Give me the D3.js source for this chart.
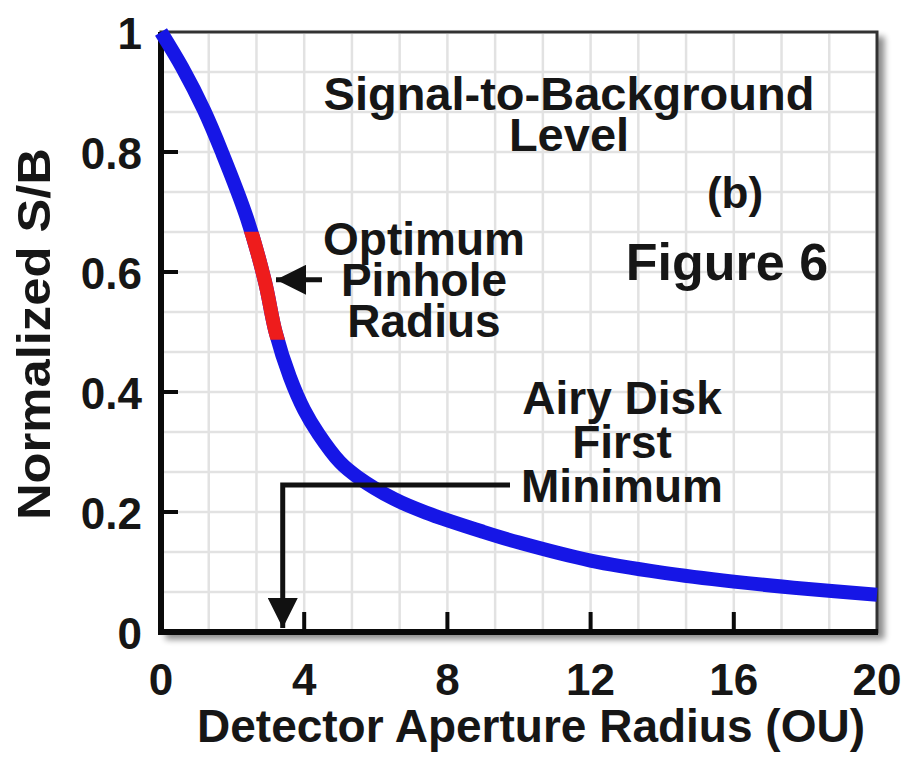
<!doctype html>
<html lang="en">
<head>
    <meta charset="utf-8">
    <title>Signal-to-Background Level</title>
    <script src="https://cdnjs.cloudflare.com/ajax/libs/d3/7.8.5/d3.min.js"></script>
    <style>
        body { margin: 0; background: #fff; }
        svg text {
            font-family: "Liberation Sans", Arial, sans-serif;
            font-weight: bold;
            fill: #161616;
        }
    </style>
</head>
<body>
    <div id="chart"></div>
    <script>
        // curve: detector radius (OU) -> normalized S/B
        var radius = [0, 0.6, 1.2, 1.7, 2.4, 2.9, 3.2, 3.6, 4.0, 4.4, 5.0, 5.5, 6.5, 7.4, 9, 10, 12, 14, 16, 18, 20];
        var sb     = [1.0, 0.94, 0.87, 0.80, 0.69, 0.585, 0.50, 0.425, 0.37, 0.33, 0.283, 0.258, 0.222, 0.199, 0.167, 0.149, 0.119, 0.099, 0.084, 0.072, 0.062];

        // optimum pinhole band (red part of curve), as S/B levels
        var optimumBand = [0.487, 0.667];
        var optimumArrowY = 0.587;
        var airyMinimum = 3.4;
        var airyLineY = 0.245;

        var xTicks = [0, 4, 8, 12, 16, 20];
        var yTicks = [0, 0.2, 0.4, 0.6, 0.8, 1];
        var xInnerTicks = [4, 8, 12, 16];
        var yInnerTicks = [0.2, 0.4, 0.6, 0.8];

        var width = 906, height = 757;
        var x = d3.scaleLinear().domain([0, 20]).range([161, 877]);
        var y = d3.scaleLinear().domain([0, 1]).range([632, 32]);

        var svg = d3.select("#chart").append("svg")
            .attr("width", width)
            .attr("height", height);

        var defs = svg.append("defs");
        var shadow = defs.append("filter").attr("id", "shadow")
            .attr("x", "-5%").attr("y", "-5%").attr("width", "115%").attr("height", "115%");
        shadow.append("feGaussianBlur").attr("in", "SourceAlpha").attr("stdDeviation", 3);
        shadow.append("feOffset").attr("dx", 6).attr("dy", 6).attr("result", "off");
        shadow.append("feComponentTransfer").append("feFuncA").attr("type", "linear").attr("slope", 0.45);
        var merge = shadow.append("feMerge");
        merge.append("feMergeNode");
        merge.append("feMergeNode").attr("in", "SourceGraphic");

        defs.append("clipPath").attr("id", "optClip")
            .append("rect")
            .attr("x", 0)
            .attr("y", y(optimumBand[1]))
            .attr("width", width)
            .attr("height", y(optimumBand[0]) - y(optimumBand[1]));

        defs.append("marker").attr("id", "head")
            .attr("viewBox", "0 0 10 10").attr("refX", 10).attr("refY", 5)
            .attr("markerWidth", 6).attr("markerHeight", 6)
            .attr("markerUnits", "strokeWidth")
            .attr("orient", "auto")
            .append("path").attr("d", "M0,0L10,5L0,10Z").attr("fill", "#111");

        // frame with shadow
        svg.append("rect")
            .attr("x", x(0)).attr("y", y(1))
            .attr("width", x(20) - x(0)).attr("height", y(0) - y(1))
            .attr("fill", "#fff")
            .attr("stroke", "#333")
            .attr("stroke-width", 3)
            .attr("filter", "url(#shadow)");

        // grid 15 x 15
        var grid = svg.append("g").attr("stroke", "#e2e2e2").attr("stroke-width", 2.5);
        grid.selectAll("line.v").data(d3.range(1, 15)).enter().append("line")
            .attr("x1", function(i) { return x(i * 20 / 15); })
            .attr("x2", function(i) { return x(i * 20 / 15); })
            .attr("y1", y(1) + 2).attr("y2", y(0) - 2);
        grid.selectAll("line.h").data(d3.range(1, 15)).enter().append("line")
            .attr("y1", function(i) { return y(i / 15); })
            .attr("y2", function(i) { return y(i / 15); })
            .attr("x1", x(0) + 2).attr("x2", x(20) - 2);

        // left & bottom axes
        var axes = svg.append("g").attr("stroke", "#0a0a0a");
        axes.append("path")
            .attr("d", "M" + x(0) + "," + y(1) + "V" + y(0) + "H" + (x(20) + 1))
            .attr("fill", "none").attr("stroke-width", 6);
        axes.selectAll("line.yt").data(yInnerTicks).enter().append("line")
            .attr("x1", x(0)).attr("x2", x(0) + 17)
            .attr("y1", y).attr("y2", y)
            .attr("stroke-width", 4);
        axes.selectAll("line.xt").data(xInnerTicks).enter().append("line")
            .attr("x1", x).attr("x2", x)
            .attr("y1", y(0)).attr("y2", y(0) - 20)
            .attr("stroke-width", 4);

        // curve
        var line = d3.line()
            .x(function(d) { return x(d[0]); })
            .y(function(d) { return y(d[1]); })
            .curve(d3.curveCatmullRom);
        var pts = d3.zip(radius, sb);
        svg.append("path").datum(pts)
            .attr("d", line)
            .attr("fill", "none")
            .attr("stroke", "#1616e6")
            .attr("stroke-width", 14);
        svg.append("path").datum(pts)
            .attr("d", line)
            .attr("fill", "none")
            .attr("stroke", "#ee1c1c")
            .attr("stroke-width", 14)
            .attr("clip-path", "url(#optClip)");

        // tick labels
        svg.selectAll("text.xl").data(xTicks).enter().append("text")
            .attr("x", x).attr("y", 695)
            .attr("text-anchor", "middle")
            .attr("font-size", 44)
            .text(function(d) { return d; });
        svg.selectAll("text.yl").data(yTicks).enter().append("text")
            .attr("x", 142).attr("y", function(d) { return y(d) + 17; })
            .attr("text-anchor", "end")
            .attr("font-size", 44)
            .text(function(d) { return d; });

        // axis titles
        svg.append("text")
            .attr("x", 531).attr("y", 742)
            .attr("text-anchor", "middle")
            .attr("font-size", 46)
            .text("Detector Aperture Radius (OU)");
        svg.append("text")
            .attr("transform", "translate(50,334) rotate(-90)")
            .attr("text-anchor", "middle")
            .attr("font-size", 46)
            .attr("textLength", 372)
            .attr("lengthAdjust", "spacingAndGlyphs")
            .text("Normalized S/B");

        // annotations
        function label(lines, cx, y0, dy, size) {
            lines.forEach(function(t, i) {
                svg.append("text")
                    .attr("x", cx).attr("y", y0 + i * dy)
                    .attr("text-anchor", "middle")
                    .attr("font-size", size)
                    .text(t);
            });
        }
        label(["Signal-to-Background", "Level"], 569, 110, 41, 47);
        label(["(b)"], 735, 208, 0, 44);
        label(["Figure 6"], 727, 280, 0, 52);
        label(["Optimum", "Pinhole", "Radius"], 424, 255, 41, 46);
        label(["Airy Disk", "First", "Minimum"], 622, 414, 44, 46);

        // arrow to optimum pinhole
        svg.append("line")
            .attr("x1", 322).attr("y1", y(optimumArrowY))
            .attr("x2", 276).attr("y2", y(optimumArrowY))
            .attr("stroke", "#111").attr("stroke-width", 5)
            .attr("marker-end", "url(#head)");

        // airy disk first minimum leader
        svg.append("path")
            .attr("d", "M510," + y(airyLineY) + "H" + x(airyMinimum) + "V" + (y(0) - 4))
            .attr("fill", "none")
            .attr("stroke", "#111").attr("stroke-width", 5)
            .attr("marker-end", "url(#head)");
    </script>
</body>
</html>
